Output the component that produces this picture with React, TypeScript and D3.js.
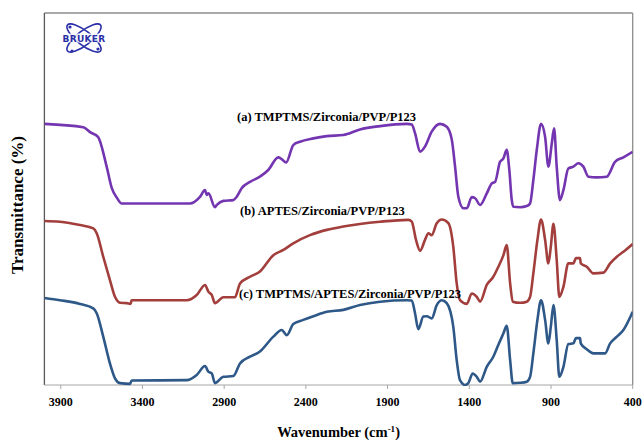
import React from "react";
import * as d3 from "d3";

// (a) TMPTMS/Zirconia/PVP/P123
const aWn = [4000, 3762, 3718, 3672, 3619, 3588, 3556, 3527, 3109, 3048, 3017, 3007, 2996, 2956, 2945, 2905, 2844, 2823, 2793, 2742, 2681, 2630, 2569, 2548, 2521, 2477, 2436, 2354, 2272, 2171, 2069, 1946, 1783, 1752, 1732, 1701, 1671, 1630, 1579, 1538, 1507, 1487, 1467, 1436, 1415, 1385, 1364, 1334, 1293, 1262, 1242, 1212, 1191, 1171, 1155, 1140, 1130, 1089, 1048, 1028, 1008, 987, 961, 936, 916, 895, 881, 865, 845, 824, 794, 763, 733, 702, 671, 620, 559, 508, 457, 400];
const aT = [70.2, 69.3, 67.9, 66.7, 58.7, 53.0, 50.3, 48.8, 48.8, 50.6, 52.4, 51.1, 51.5, 47.8, 48.4, 49.5, 49.7, 50.6, 52.9, 54.6, 56.0, 57.8, 61.2, 60.7, 59.8, 64.5, 65.4, 66.3, 66.9, 67.2, 68.7, 69.6, 70.2, 70.0, 67.7, 62.7, 64.1, 68.1, 70.2, 69.4, 65.9, 58.7, 50.6, 47.5, 47.5, 50.5, 50.2, 48.4, 51.5, 54.2, 54.6, 60.0, 60.9, 63.2, 57.8, 49.7, 47.9, 47.8, 48.1, 48.8, 55.1, 63.2, 70.2, 66.7, 58.7, 65.0, 69.0, 58.7, 49.7, 52.4, 58.2, 58.7, 59.6, 58.7, 56.0, 55.8, 56.0, 60.0, 61.2, 62.7];

// (b) APTES/Zirconia/PVP/P123
const bWn = [4000, 3905, 3782, 3701, 3680, 3640, 3599, 3568, 3537, 3496, 3472, 3467, 3129, 3068, 3017, 2997, 2976, 2956, 2905, 2834, 2803, 2742, 2681, 2599, 2538, 2477, 2375, 2272, 2171, 2069, 1946, 1773, 1752, 1726, 1701, 1671, 1650, 1630, 1599, 1568, 1528, 1498, 1477, 1457, 1415, 1385, 1354, 1334, 1293, 1253, 1222, 1191, 1171, 1150, 1134, 1089, 1048, 1028, 1008, 983, 961, 936, 916, 901, 885, 865, 849, 824, 794, 763, 747, 722, 718, 681, 641, 579, 538, 497, 457, 400];
const bT = [44.1, 43.9, 43.0, 42.1, 40.8, 34.5, 28.2, 23.7, 22.1, 22.0, 21.8, 22.8, 22.8, 24.2, 26.9, 25.1, 24.2, 22.0, 23.6, 23.6, 27.3, 29.1, 30.5, 34.9, 36.3, 38.1, 40.3, 41.7, 42.6, 43.3, 43.9, 44.4, 43.9, 39.0, 36.1, 39.0, 40.8, 40.3, 43.5, 44.5, 43.5, 37.2, 27.3, 22.8, 21.8, 24.6, 23.7, 22.4, 26.9, 29.1, 31.8, 34.9, 37.6, 27.3, 22.4, 22.1, 22.4, 23.7, 30.0, 39.0, 44.5, 39.0, 32.7, 37.2, 43.3, 33.6, 23.7, 26.4, 32.7, 32.7, 34.1, 34.1, 32.7, 31.8, 30.0, 30.2, 32.7, 34.5, 35.8, 37.9];

// (c) TMPTMS/APTES/Zirconia/PVP/P123
const cWn = [4000, 3905, 3782, 3701, 3680, 3640, 3599, 3568, 3537, 3476, 3466, 3129, 3068, 3017, 2997, 2976, 2956, 2905, 2844, 2803, 2742, 2681, 2599, 2548, 2517, 2477, 2416, 2354, 2272, 2171, 2069, 1946, 1783, 1752, 1732, 1712, 1681, 1660, 1630, 1599, 1568, 1538, 1498, 1477, 1457, 1426, 1406, 1379, 1354, 1334, 1293, 1253, 1222, 1191, 1171, 1150, 1134, 1089, 1048, 1028, 1008, 983, 961, 936, 916, 901, 885, 865, 849, 824, 794, 763, 747, 722, 718, 681, 641, 569, 538, 497, 457, 400];
const cT = [23.4, 22.8, 21.8, 20.6, 19.3, 13.0, 5.8, 1.8, 0.5, 0.3, 1.2, 1.3, 2.7, 5.1, 3.6, 3.1, 0.5, 2.2, 2.4, 5.8, 7.6, 9.0, 13.0, 14.8, 13.4, 16.4, 17.5, 18.5, 19.7, 20.2, 21.5, 22.4, 22.8, 22.7, 19.3, 15.0, 18.4, 18.5, 17.9, 21.5, 22.8, 22.0, 15.7, 6.7, 1.3, 0.0, 0.5, 3.1, 2.2, 0.9, 4.9, 7.6, 10.8, 13.9, 15.9, 6.7, 0.5, 0.6, 0.9, 2.2, 8.5, 17.5, 22.8, 17.5, 11.2, 15.7, 21.5, 12.1, 2.2, 4.9, 11.0, 11.2, 12.6, 12.6, 11.2, 9.6, 8.5, 8.5, 11.2, 13.0, 14.8, 19.7];

const xTicks = [3900, 3400, 2900, 2400, 1900, 1400, 900, 400];

const seriesNames = [
  "(a) TMPTMS/Zirconia/PVP/P123",
  "(b) APTES/Zirconia/PVP/P123",
  "(c) TMPTMS/APTES/Zirconia/PVP/P123",
];
const seriesColors = ["#7335b0", "#a23f3d", "#2e5888"];

const W = 643;
const H = 441;
const left = 44.4, right = 632.7, top = 13, bottom = 385;

const serif = "'Liberation Serif', 'Times New Roman', serif";

export default function App() {
  const x = d3.scaleLinear().domain([4000, 400]).range([left, right]);
  const y = d3.scaleLinear().domain([0, 100]).range([bottom, top]);

  const series = [
    aWn.map((w, i) => [w, aT[i]]),
    bWn.map((w, i) => [w, bT[i]]),
    cWn.map((w, i) => [w, cT[i]]),
  ];

  const line = d3
    .line<number[]>()
    .x(d => x(d[0]))
    .y(d => y(d[1]))
    .curve(d3.curveMonotoneX);

  // label anchor points (wavenumber, transmittance)
  const labelPos = [
    [2821, 71.0],
    [2803, 45.8],
    [2809, 23.5],
  ];

  return (
    <svg width={W} height={H} style={{ position: "absolute", left: 0, top: 0, background: "#fff" }}
      fontFamily={serif}>
      <defs>
        <clipPath id="plot">
          <rect x={left} y={top - 2} width={right - left} height={bottom - top + 3} />
        </clipPath>
      </defs>
      <rect width={W} height={H} fill="#fff" />

      {/* plot frame */}
      <line x1={left} x2={right} y1={top} y2={top} stroke="#8c8c8c" strokeWidth={1.3} />
      <line x1={right} x2={right} y1={top} y2={bottom} stroke="#8c8c8c" strokeWidth={1.3} />
      <line x1={left} x2={left} y1={top} y2={bottom} stroke="#595959" strokeWidth={1.3} />
      <line x1={left} x2={right} y1={bottom} y2={bottom} stroke="#a6a6a6" strokeWidth={1} />

      {/* bottom ticks */}
      {xTicks.map(t => (
        <g key={t} transform={`translate(${x(t)},${bottom})`}>
          <line y1={0} y2={4} stroke="#a6a6a6" />
          <text y={21} textAnchor="middle" fontSize={12} fontWeight="bold" fill="#000">{t}</text>
        </g>
      ))}

      {/* spectra */}
      <g clipPath="url(#plot)">
        {series.map((s, i) => (
          <path key={i} d={line(s) || ""} fill="none" stroke={seriesColors[i]} strokeWidth={2.6}
            strokeLinejoin="round" />
        ))}
      </g>

      {seriesNames.map((n, i) => (
        <text key={n} x={x(labelPos[i][0])} y={y(labelPos[i][1])} fontSize={12.5} fontWeight="bold" fill="#000">{n}</text>
      ))}

      {/* axis titles */}
      <text x={(left + right) / 2} y={437} textAnchor="middle" fontSize={14.5} fontWeight="bold">
        Wavenumber (cm<tspan dy={-5} fontSize={9}>-1</tspan><tspan dy={5}>)</tspan>
      </text>
      <text transform={`translate(23,205) rotate(-90)`} textAnchor="middle"
        fontSize={17} fontWeight="bold">Transmittance (%)</text>

      {/* Bruker logo */}
      <g transform="translate(84,38)" fill="none" stroke="#2a2fa8" strokeWidth={1.6}>
        <ellipse rx={21} ry={7} transform="rotate(38)" />
        <ellipse rx={21} ry={7} transform="rotate(-38)" />
        <circle cx={-14} cy={-11} r={1.6} fill="#2a2fa8" stroke="none" />
        <circle cx={14} cy={11} r={1.6} fill="#2a2fa8" stroke="none" />
        <circle cx={-12} cy={13} r={1.6} fill="#2a2fa8" stroke="none" />
        <rect x={-21} y={-4.5} width={42} height={9} fill="#fff" stroke="none" opacity={0.85} />
        <text y={3.5} textAnchor="middle" fontSize={9} fontWeight="bold" fill="#2a2fa8" stroke="none"
          fontFamily="'DejaVu Sans', sans-serif" letterSpacing={0.3}>BRUKER</text>
      </g>
    </svg>
  );
}
